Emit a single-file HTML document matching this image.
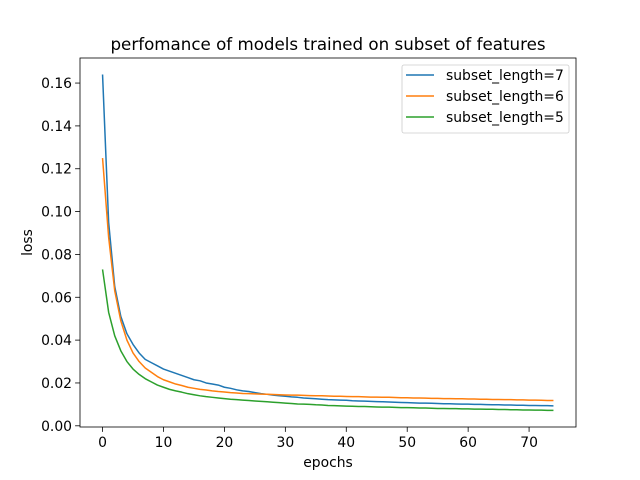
<!DOCTYPE html>
<html><head><meta charset="utf-8"><style>body{margin:0;background:#fff}svg{display:block;font-family:"DejaVu Sans","Liberation Sans",sans-serif}</style></head>
<body>
<svg id="chart" width="640" height="480" viewBox="0 0 640 480"></svg>
<script>
const blueLoss=[0.164,0.095,0.065,0.051,0.043,0.038,0.034,0.031,0.0295,0.028,0.0265,0.0255,0.0245,0.0235,0.0225,0.0215,0.021,0.02,0.0195,0.019,0.018,0.0175,0.0168,0.0163,0.016,0.0155,0.015,0.0147,0.0143,0.014,0.0138,
0.0135,0.0133,0.013,0.0128,0.0126,0.0124,0.0122,0.0121,0.012,0.0119,0.0117,0.0116,0.0115,0.0114,0.0113,0.0112,0.0111,0.011,0.0109,0.0108,0.0107,0.0106,0.0106,0.0105,0.0104,0.0103,0.0103,0.0102,0.0101,0.0101,0.01,0.01,0.0099,0.0098,0.0098,0.0097,0.0097,0.0096,0.0096,0.0095,0.0095,0.0094,0.0094,0.0093];
const orangeLoss=[0.125,0.088,0.063,0.049,0.040,0.034,0.030,0.027,0.025,0.023,0.0215,0.0205,0.0195,0.0188,0.018,0.0175,0.017,0.0167,0.0163,0.016,0.0158,0.0155,0.0153,0.0151,0.015,0.0149,
0.0148,0.0147,0.0146,0.0145,0.0144,0.0143,0.0143,0.0142,0.0141,0.014,0.014,0.0139,0.0138,0.0138,0.0137,0.0136,0.0136,0.0135,0.0134,0.0134,0.0133,0.0133,0.0132,0.0131,0.0131,0.013,0.013,0.0129,0.0128,0.0128,0.0127,0.0127,0.0126,0.0126,0.0125,0.0125,0.0124,0.0124,0.0123,0.0123,0.0122,0.0122,0.0121,0.0121,0.012,0.012,0.0119,0.0118,0.0118];
const greenLoss=[0.073,0.053,0.042,0.035,0.030,0.0265,0.024,0.022,0.0205,0.019,0.018,0.017,0.0163,0.0157,0.015,
0.0145,0.014,0.0136,0.0133,0.013,0.0127,0.0124,0.0122,0.012,0.0118,0.0116,0.0114,0.0112,0.011,0.0108,0.0106,0.0104,0.0102,0.0101,0.01,0.0098,0.0097,0.0095,0.0094,0.0093,0.0092,0.0091,0.009,0.009,0.0089,0.0088,0.0087,0.0087,0.0086,0.0085,0.0085,0.0084,0.0083,0.0083,0.0082,0.0081,0.0081,0.008,0.008,0.0079,0.0079,0.0078,0.0078,0.0077,0.0077,0.0076,0.0076,0.0075,0.0075,0.0074,0.0074,0.0073,0.0073,0.0072,0.0072];
const seriesNames=["subset_length=7","subset_length=6","subset_length=5"];
const xTicks=[0,10,20,30,40,50,60,70];
const yTicks=[0.00,0.02,0.04,0.06,0.08,0.10,0.12,0.14,0.16];

const svg=document.getElementById('chart');
const NS='http://www.w3.org/2000/svg';
const L=80,R=576,T=58,B=427;
const xMin=-3.7,xMax=77.7,yMin=-0.00056,yMax=0.1717;
const xs=v=>L+(v-xMin)/(xMax-xMin)*(R-L);
const ys=v=>B-(v-yMin)/(yMax-yMin)*(B-T);
function mk(tag,attrs,text){const e=document.createElementNS(NS,tag);for(const k in attrs)e.setAttribute(k,attrs[k]);if(text!==undefined)e.textContent=text;svg.appendChild(e);return e;}

xTicks.forEach(t=>{const x=xs(t);
 const l=mk('line',{x1:x,x2:x,y1:B,y2:B+4.9,stroke:'#000','stroke-width':0.8});
 
 
 const tx=mk('text',{x:x,y:B+20,'text-anchor':'middle','font-size':13.9},String(t));
 
 
});
yTicks.forEach(t=>{const y=ys(t);
 const l=mk('line',{x1:L-4.9,x2:L,y1:y,y2:y,stroke:'#000','stroke-width':0.8});
 
 
 const tx=mk('text',{x:L-8,y:y+5,'text-anchor':'end','font-size':13.9},t.toFixed(2));
 
 
});
const colors=['#1f77b4','#ff7f0e','#2ca02c'];
[blueLoss,orangeLoss,greenLoss].forEach((d,i)=>{
 const p=mk('polyline',{points:d.map((v,j)=>xs(j).toFixed(2)+','+ys(v).toFixed(2)).join(' '),fill:'none',stroke:colors[i],'stroke-width':1.5,'stroke-linejoin':'round'});
 
 
});
const frame=mk('rect',{x:L,y:T,width:R-L,height:B-T,fill:'none',stroke:'#000','stroke-width':0.8});


const title=mk('text',{x:(L+R)/2,y:50,'text-anchor':'middle','font-size':16.7},'perfomance of models trained on subset of features');


const xt=mk('text',{x:(L+R)/2,y:467,'text-anchor':'middle','font-size':13.9},'epochs');


const yt=mk('text',{x:0,y:0,'text-anchor':'middle','font-size':13.9,transform:'translate(32,'+((T+B)/2)+') rotate(-90)'},'loss');


const lb=mk('rect',{x:402,y:65,width:167,height:68,rx:2,fill:'#fff','fill-opacity':0.8,stroke:'#ccc','stroke-width':0.8});


seriesNames.forEach((n,i)=>{const y=75+i*21;
 const l=mk('line',{x1:406,x2:434,y1:y,y2:y,stroke:colors[i],'stroke-width':1.5});
 
 
 const tx=mk('text',{x:446,y:y+5,'font-size':13.9},n);
 
 
});
</script>
</body></html>
